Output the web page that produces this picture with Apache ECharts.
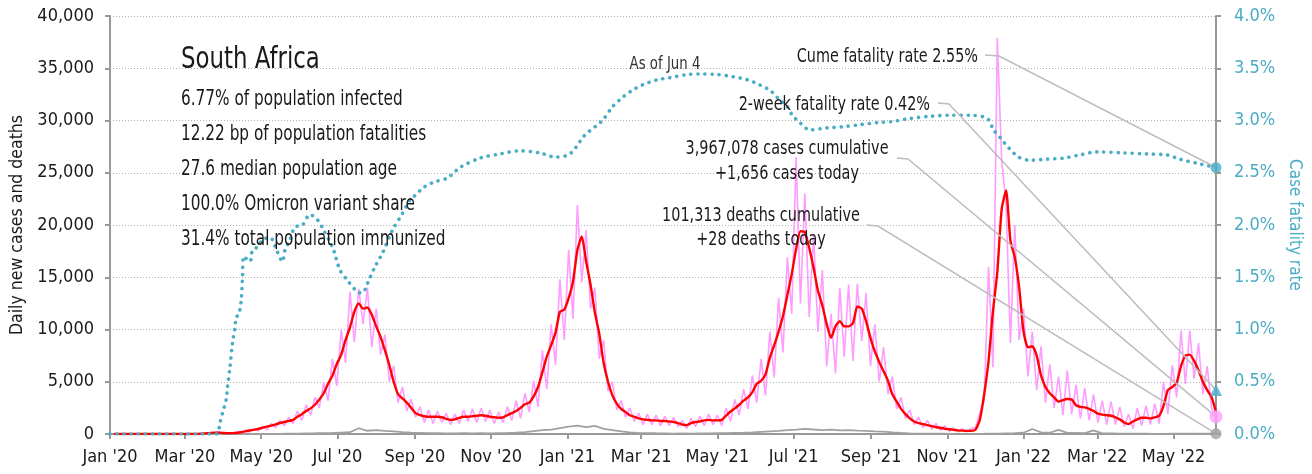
<!DOCTYPE html>
<html>
<head>
<meta charset="utf-8">
<title>South Africa – daily cases, deaths and case fatality rate</title>
<script src="https://cdn.jsdelivr.net/npm/echarts@6/dist/echarts.min.js"></script>
<style>
  html, body { margin: 0; padding: 0; background: #ffffff; }
  #chart { width: 1312px; height: 474px; }
</style>
</head>
<body>
<div id="chart"></div>
<script>
// ---------- data ----------
const firstDate = '2020-01-01';
const lastDate = '2022-06-04';

// month ticks on the date axis and their labels
const tickDates = ['2020-01-01', '2020-03-01', '2020-05-01', '2020-07-01', '2020-09-01', '2020-11-01',
  '2021-01-01', '2021-03-01', '2021-05-01', '2021-07-01', '2021-09-01', '2021-11-01',
  '2022-01-01', '2022-03-01', '2022-05-01'];
const tickLabels = ["Jan '20", "Mar '20", "May '20", "Jul '20", "Sep '20", "Nov '20",
  "Jan '21", "Mar '21", "May '21", "Jul '21", "Sep '21", "Nov '21",
  "Jan '22", "Mar '22", "May '22"];

// reported new cases, twice a week (every 3.5 days), ending on lastDate
const casesDaily = [
  0, 0, 0, 0, 0, 0, 0, 0, 0, 0, 0, 0, 0, 0, 0, 0, 0, 0, 0, 0,
  20, 60, 150, 90, 240, 50, 90, 40, 180, 60, 350, 180, 500, 300, 700, 400,
  1000, 600, 1300, 800, 1600, 1000, 2200, 1300, 2800, 1800, 3500, 2500,
  4900, 3200, 7200, 4600, 10000, 6800, 13600, 8800, 13900, 10500, 14000, 8300,
  12000, 7600, 9500, 5000, 6500, 3000, 4500, 2200, 3300, 1600, 2600, 1100,
  2300, 1000, 2200, 1100, 2000, 900, 1900, 1000, 2300, 1200, 2400, 1100,
  2500, 1200, 2300, 1000, 2100, 1100, 2600, 1300, 3200, 1500, 3900, 2100,
  5100, 2600, 8000, 4300, 10500, 6600, 14800, 9000, 17600, 11000, 21900, 14500,
  19500, 12000, 14000, 7200, 9000, 4100, 5000, 2300, 3200, 1600, 2500, 1200,
  2000, 900, 1900, 900, 1800, 800, 1700, 800, 1600, 700, 1300, 500,
  1500, 700, 1700, 800, 1900, 900, 1800, 800, 2500, 1200, 3300, 1800,
  4300, 2400, 5600, 3000, 7200, 3700, 9800, 5400, 13000, 7800, 16900, 11500,
  26500, 12500, 23000, 11200, 19000, 9800, 15700, 6500, 11500, 5800, 14000, 7400,
  14300, 7000, 14400, 8900, 13500, 6500, 10500, 5000, 8300, 3800, 5500, 2400,
  3500, 1500, 2300, 900, 1600, 600, 1300, 450, 1000, 350, 800, 250,
  600, 200, 500, 200, 500, 600, 2000, 3200, 16000, 6400, 37900, 26200,
  22000, 8700, 20000, 9000, 12000, 5500, 9800, 4200, 8400, 3000, 6700, 2500,
  5500, 1800, 6100, 1900, 4700, 1500, 4400, 1300, 3800, 1100, 3200, 900,
  3100, 900, 2600, 700, 1900, 500, 2500, 800, 2700, 900, 2900, 1000,
  5000, 1900, 6600, 3500, 9900, 4800, 9900, 5300, 8700, 3800, 6500, 2400,
  1656
];

// 7-day average of new cases, on the same twice-weekly dates
const casesAvg = [
  0, 0, 0, 0, 0, 0, 0, 0, 0, 0, 0, 0, 0, 0, 0, 0, 0, 0, 0, 0,
  30, 60, 90, 130, 130, 100, 70, 80, 100, 170, 250, 330, 400, 480, 600, 700,
  800, 930, 1050, 1150, 1250, 1350, 1650, 1900, 2200, 2450, 2800, 3300,
  3900, 4800, 5600, 6700, 7600, 9000, 10200, 11700, 12500, 12000, 12100, 11400,
  10300, 9300, 8000, 6600, 5000, 3800, 3400, 3000, 2500, 2000, 1800, 1700,
  1650, 1650, 1650, 1600, 1450, 1350, 1400, 1550, 1650, 1650, 1700, 1750,
  1800, 1750, 1650, 1600, 1550, 1600, 1800, 2000, 2200, 2500, 2850, 3000,
  3600, 4500, 5900, 7400, 8500, 9700, 11700, 11900, 13000, 14600, 17600, 18900,
  16500, 14300, 11600, 9600, 6800, 5000, 3700, 2900, 2400, 2100, 1800, 1650,
  1500, 1400, 1350, 1300, 1300, 1250, 1250, 1200, 1150, 1050, 900, 850,
  1050, 1150, 1200, 1300, 1350, 1300, 1300, 1350, 1750, 2150, 2450, 2800,
  3200, 3500, 4000, 4800, 5100, 5700, 7300, 8500, 9800, 11300, 13300, 15300,
  17700, 19400, 19300, 17800, 15900, 13700, 12300, 10500, 9200, 10300, 10800, 10300,
  10300, 10600, 12200, 12000, 10800, 9200, 7900, 6900, 6000, 5100, 3800, 3100,
  2400, 1900, 1500, 1200, 1050, 950, 850, 750, 650, 600, 500, 450,
  400, 350, 320, 300, 300, 400, 1350, 3800, 7000, 11700, 15500, 21500,
  23300, 18500, 16900, 14000, 9800, 8300, 8400, 7500, 5600, 4500, 3900, 3500,
  3100, 3250, 3350, 3300, 2750, 2600, 2550, 2400, 2200, 1950, 1850, 1800,
  1750, 1600, 1400, 1100, 950, 1200, 1400, 1550, 1550, 1500, 1600, 1750,
  2700, 4200, 4500, 4900, 6500, 7500, 7600, 7000, 6100, 5000, 4200, 3500,
  2100
];

// reported deaths, weekly, ending on lastDate
const deathsDaily = [
  0, 0, 0, 0, 0, 0, 0, 0, 0, 0, 0, 0, 0,
  3, 5, 10, 12, 12, 15, 20, 30, 40, 55,
  70, 90, 110, 140, 170, 550, 310, 380, 300, 250,
  180, 120, 100, 80, 70, 60, 60, 70, 60, 80,
  60, 90, 100, 130, 180, 280, 380, 420, 570, 700,
  800, 650, 780, 500, 380, 250, 150, 100, 90, 70,
  60, 40, 50, 40, 60, 50, 70, 80, 100, 120,
  150, 200, 250, 300, 380, 420, 500, 430, 380, 420,
  350, 380, 320, 300, 250, 220, 150, 100, 60, 40,
  30, 30, 25, 20, 20, 15, 20, 30, 40, 60,
  80, 120, 480, 150, 120, 400, 110, 100, 80, 350,
  60, 50, 40, 30, 30, 25, 20, 20, 30, 40,
  45, 40, 35, 28
];

// cumulative case fatality rate, % (date, value)
const cfrPoints = [
  ['2020-01-01', 0], ['2020-03-26', 0], ['2020-03-29', 0.11], ['2020-03-31', 0.2],
  ['2020-04-03', 0.33], ['2020-04-04', 0.45], ['2020-04-06', 0.64], ['2020-04-08', 0.87],
  ['2020-04-10', 1.02], ['2020-04-11', 1.12], ['2020-04-13', 1.14], ['2020-04-15', 1.28],
  ['2020-04-16', 1.5], ['2020-04-17', 1.7], ['2020-04-22', 1.65], ['2020-04-24', 1.76],
  ['2020-04-28', 1.79], ['2020-05-02', 1.86], ['2020-05-08', 1.88], ['2020-05-14', 1.74],
  ['2020-05-18', 1.65], ['2020-05-20', 1.76], ['2020-05-24', 1.86], ['2020-05-28', 1.98],
  ['2020-06-03', 2.0], ['2020-06-09', 2.1], ['2020-06-15', 2.05], ['2020-06-19', 1.97],
  ['2020-06-27', 1.79], ['2020-07-03', 1.57], ['2020-07-09', 1.47], ['2020-07-17', 1.36],
  ['2020-07-21', 1.35], ['2020-07-25', 1.44], ['2020-07-31', 1.6], ['2020-08-06', 1.73],
  ['2020-08-14', 1.95], ['2020-08-22', 2.11], ['2020-08-28', 2.24], ['2020-08-31', 2.27],
  ['2020-09-08', 2.36], ['2020-09-16', 2.41], ['2020-09-27', 2.45], ['2020-10-07', 2.55],
  ['2020-10-23', 2.64], ['2020-11-08', 2.68], ['2020-11-24', 2.71], ['2020-12-10', 2.69],
  ['2020-12-22', 2.65], ['2021-01-03', 2.68], ['2021-01-15', 2.86], ['2021-01-29', 3.0],
  ['2021-02-06', 3.13], ['2021-02-14', 3.22], ['2021-02-22', 3.29], ['2021-03-02', 3.34],
  ['2021-03-14', 3.39], ['2021-03-24', 3.41], ['2021-04-07', 3.44], ['2021-04-17', 3.445],
  ['2021-05-01', 3.44], ['2021-05-13', 3.42], ['2021-05-25', 3.39], ['2021-06-04', 3.34],
  ['2021-06-12', 3.29], ['2021-06-18', 3.22], ['2021-06-26', 3.13], ['2021-06-30', 3.05],
  ['2021-07-06', 2.98], ['2021-07-14', 2.91], ['2021-07-28', 2.93], ['2021-08-09', 2.94],
  ['2021-08-23', 2.96], ['2021-09-06', 2.98], ['2021-09-18', 2.99], ['2021-10-02', 3.02],
  ['2021-10-18', 3.04], ['2021-11-03', 3.05], ['2021-11-19', 3.05], ['2021-12-03', 3.02],
  ['2021-12-08', 2.91], ['2021-12-13', 2.84], ['2021-12-20', 2.74], ['2021-12-28', 2.65],
  ['2022-01-06', 2.62], ['2022-01-20', 2.63], ['2022-02-02', 2.64], ['2022-02-15', 2.67],
  ['2022-03-01', 2.70], ['2022-03-22', 2.69], ['2022-04-10', 2.68], ['2022-04-26', 2.67],
  ['2022-05-06', 2.63], ['2022-05-20', 2.59], ['2022-06-04', 2.55]
];

// latest figures
const casesToday = 1656;
const deathsToday = 28;
const cfrToday = 2.55;
const twoWeekCfr = 0.42;

const countryName = 'South Africa';
const infoLines = [
  '6.77% of population infected',
  '12.22 bp of population fatalities',
  '27.6 median population age',
  '100.0% Omicron variant share',
  '31.4% total population immunized'
];
const asOfLabel = 'As of Jun 4';
const cfrLabel = 'Cume fatality rate 2.55%';
const twoWeekLabel = '2-week fatality rate 0.42%';
const casesLabel = ['3,967,078 cases cumulative', '+1,656 cases today'];
const deathsLabel = ['101,313 deaths cumulative', '+28 deaths today'];

// ---------- styling ----------
const FONT = "'DejaVu Sans Condensed', 'Liberation Sans Narrow', sans-serif";
const TEAL = '#4bacc6';
const PINK = '#ff9cff';
const RED = '#ff0000';
const GREY = '#a0a0a0';
const AXIS = '#999999';
const INK = '#1a1a1a';
const NARROW = 0.8;   // horizontal squeeze for the free-standing text

// ---------- helpers ----------
const DAY = 86400000;
function ts(s) {
  const p = s.split('-').map(Number);
  return Date.UTC(p[0], p[1] - 1, p[2]);
}
const startTs = ts(firstDate);
const endTs = ts(lastDate);
function datesBack(n, stepDays) {
  return Array.from({ length: n }, (_, i) => endTs - (n - 1 - i) * stepDays * DAY);
}
const halfWeekDates = datesBack(casesDaily.length, 3.5);
const weekDates = datesBack(deathsDaily.length, 7);
const pairUp = (xs, ys) => ys.map((v, i) => [xs[i], v]);
const tickTimes = tickDates.map(ts);
function tickLabelFor(v) {
  let best = -1, bestDiff = Infinity;
  tickTimes.forEach((t, i) => {
    const d = Math.abs(t - v);
    if (d < bestDiff) { bestDiff = d; best = i; }
  });
  return bestDiff < 2 * DAY ? tickLabels[best] : '';
}

const chart = echarts.init(document.getElementById('chart'), null, { renderer: 'canvas' });

const option = {
  animation: false,
  backgroundColor: '#ffffff',
  grid: { left: 110, right: 96, top: 16, bottom: 40, containLabel: false },
  xAxis: {
    // dates as UTC timestamps on a linear axis, ticked at every other month
    type: 'value',
    min: startTs,
    max: endTs,
    axisLine: { show: true, lineStyle: { color: AXIS, width: 2 } },
    axisTick: { show: true, customValues: tickTimes, length: 5, lineStyle: { color: AXIS, width: 2 } },
    axisLabel: {
      customValues: tickTimes,
      formatter: tickLabelFor,
      color: INK, fontSize: 18, fontFamily: FONT, margin: 14, hideOverlap: false
    },
    splitLine: { show: false }
  },
  yAxis: [
    {
      type: 'value', min: 0, max: 40000, interval: 5000, position: 'left',
      name: 'Daily new cases and deaths', nameLocation: 'middle', nameGap: 82, nameRotate: 90,
      nameTextStyle: { color: INK, fontSize: 17.5, fontFamily: FONT },
      axisLine: { show: true, lineStyle: { color: AXIS, width: 2 } },
      axisTick: { show: true, length: 5, lineStyle: { color: AXIS, width: 2 } },
      axisLabel: {
        formatter: v => v.toLocaleString('en-US'),
        color: INK, fontSize: 18, fontFamily: FONT, margin: 16
      },
      splitLine: { show: true, lineStyle: { color: '#b3b3b3', width: 1, type: [1, 2] } }
    },
    {
      type: 'value', min: 0, max: 4, interval: 0.5, position: 'right',
      name: 'Case fatality rate', nameLocation: 'middle', nameGap: 64, nameRotate: -90,
      nameTextStyle: { color: TEAL, fontSize: 17, fontFamily: FONT },
      axisLine: { show: true, lineStyle: { color: AXIS, width: 2 } },
      axisTick: { show: true, length: 5, lineStyle: { color: AXIS, width: 2 } },
      axisLabel: {
        formatter: v => v.toFixed(1) + '%',
        color: TEAL, fontSize: 18, fontFamily: FONT, margin: 18
      },
      splitLine: { show: false }
    }
  ],
  series: [
    {
      name: 'New cases', type: 'line', yAxisIndex: 0,
      data: pairUp(halfWeekDates, casesDaily),
      showSymbol: false, smooth: false,
      lineStyle: { color: PINK, width: 1.6 }, z: 2
    },
    {
      name: 'Deaths', type: 'line', yAxisIndex: 0,
      data: pairUp(weekDates, deathsDaily),
      showSymbol: false,
      lineStyle: { color: GREY, width: 1.8 }, z: 3
    },
    {
      name: 'Cases 7-day average', type: 'line', yAxisIndex: 0,
      data: pairUp(halfWeekDates, casesAvg),
      showSymbol: false, smooth: 0.2,
      lineStyle: { color: RED, width: 2.4 }, z: 4
    },
    {
      name: 'Case fatality rate', type: 'line', yAxisIndex: 1,
      data: cfrPoints.map(p => [ts(p[0]), p[1]]),
      showSymbol: false, smooth: 0.3,
      lineStyle: { color: TEAL, width: 3.6, type: [0.1, 7], cap: 'round' }, z: 5
    },
    {
      name: 'Latest deaths', type: 'scatter', yAxisIndex: 0,
      data: [[endTs, deathsToday]], symbol: 'circle', symbolSize: 11,
      itemStyle: { color: GREY }, z: 8
    },
    {
      name: 'Latest cases', type: 'scatter', yAxisIndex: 0,
      data: [[endTs, casesToday]], symbol: 'circle', symbolSize: 13,
      itemStyle: { color: PINK }, z: 8
    },
    {
      name: '2-week fatality rate', type: 'scatter', yAxisIndex: 1,
      data: [[endTs, twoWeekCfr]], symbol: 'triangle', symbolSize: 12,
      itemStyle: { color: TEAL }, z: 8
    },
    {
      name: 'Cumulative fatality rate', type: 'scatter', yAxisIndex: 1,
      data: [[endTs, cfrToday]], symbol: 'circle', symbolSize: 11,
      itemStyle: { color: TEAL }, z: 8
    }
  ]
};

chart.setOption(option);

// ---------- text block and call-outs ----------
function label(text, x, y, opts) {
  const o = opts || {};
  return {
    type: 'text', x: x, y: y, z: 20, silent: true,
    scaleX: o.squeeze || NARROW,
    style: {
      text: text, fontFamily: FONT, fill: o.fill || INK, fontSize: o.size || 20,
      align: o.align || 'left', verticalAlign: 'middle'
    }
  };
}
const graphics = [];

graphics.push(label(countryName, 181, 60, { size: 31, squeeze: 0.82 }));
infoLines.forEach((line, i) => {
  graphics.push(label(line, 181, 100 + i * 35, { size: 21, squeeze: 0.81 }));
});

graphics.push(label(asOfLabel, 665, 65, { size: 17, align: 'center', squeeze: 0.87, fill: '#333' }));
graphics.push(label(cfrLabel, 978, 57, { align: 'right' }));
graphics.push(label(twoWeekLabel, 930, 105, { align: 'right' }));
casesLabel.forEach((t, i) => {
  graphics.push(label(t, 787, 149 + i * 25, { align: 'center' }));
});
deathsLabel.forEach((t, i) => {
  graphics.push(label(t, 761, 216 + i * 24, { align: 'center' }));
});

// leader lines from each call-out to the latest value on the right edge
const leaders = [
  { start: [985, 55], bend: [999, 56], axis: 1, value: cfrToday },
  { start: [938, 103], bend: [949, 104], axis: 1, value: twoWeekCfr },
  { start: [897, 158], bend: [908, 159], axis: 0, value: casesToday },
  { start: [867, 225], bend: [878, 226], axis: 0, value: deathsToday }
];
leaders.forEach(l => {
  const end = chart.convertToPixel({ xAxisIndex: 0, yAxisIndex: l.axis }, [endTs, l.value]);
  graphics.push({
    type: 'polyline', z: 6, silent: true,
    shape: { points: [l.start, l.bend, end] },
    style: { stroke: '#bdbdbd', lineWidth: 1.5, fill: null }
  });
});

chart.setOption({ graphic: graphics });
</script>
</body>
</html>
